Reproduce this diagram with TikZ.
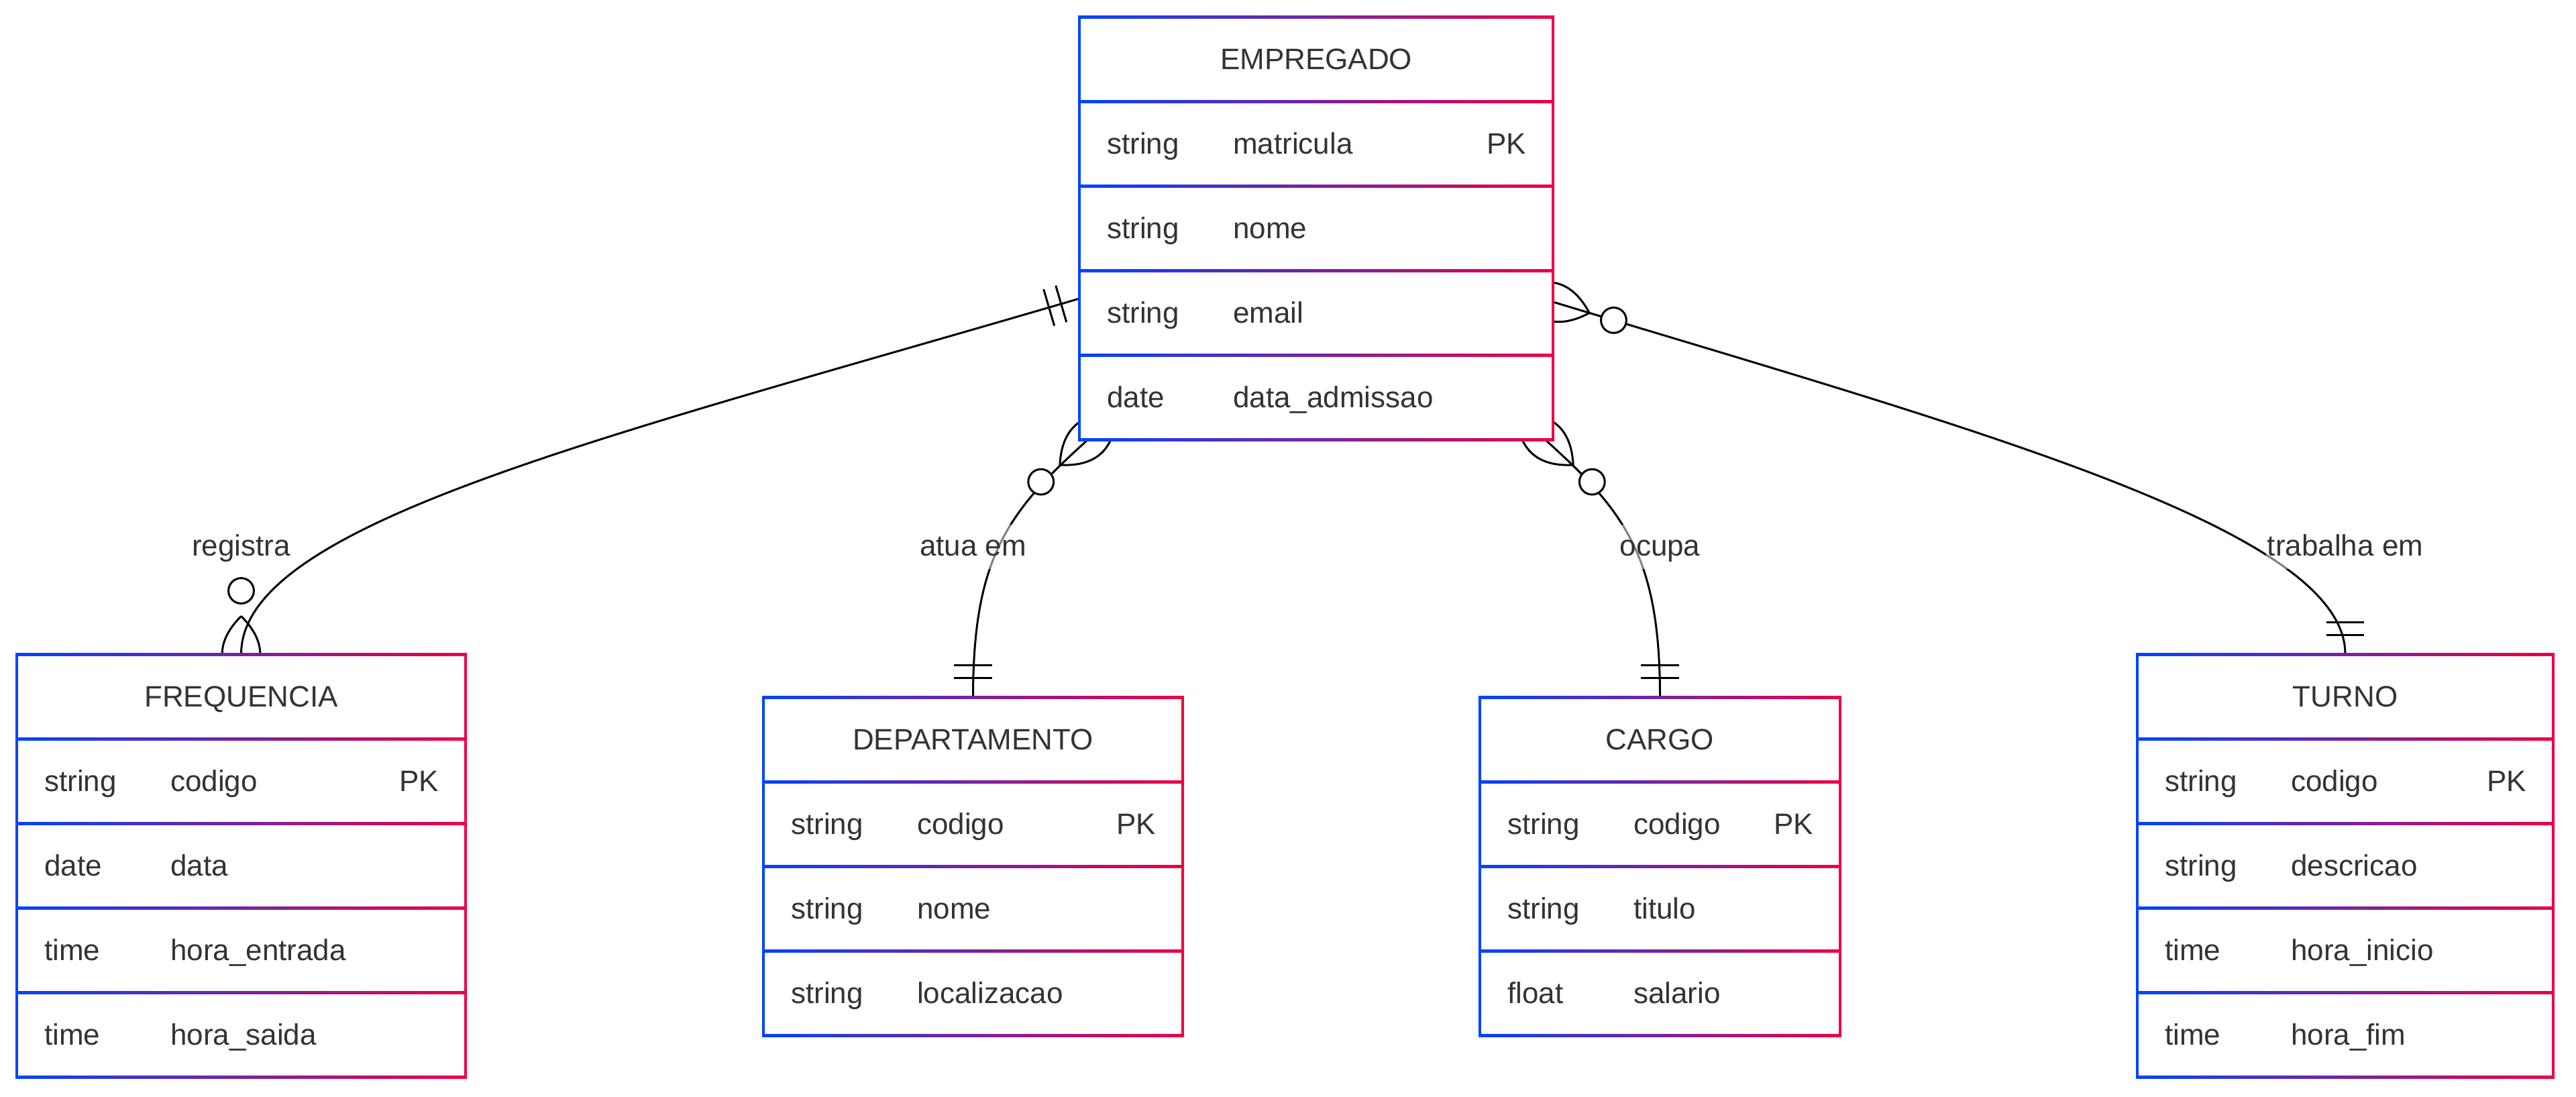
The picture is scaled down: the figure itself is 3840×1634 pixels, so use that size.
\documentclass[tikz,border=0pt]{standalone}
\usepackage{fontspec}
\setmainfont{Liberation Sans}
\usetikzlibrary{calc}
\definecolor{cb}{RGB}{0,68,255}
\definecolor{cr}{RGB}{240,0,68}
\definecolor{txt}{RGB}{51,51,51}
\tikzset{
  conn/.style={draw=black, line width=3pt},
  entity/.style={inner sep=0pt, outer sep=0pt, draw=none},
  hdr/.style={anchor=base, text=txt, inner sep=0pt, font=\fontsize{44}{52}\selectfont},
  attr/.style={anchor=base west, text=txt, inner sep=0pt, font=\fontsize{44}{52}\selectfont},
  pkey/.style={anchor=base east, text=txt, inner sep=0pt, font=\fontsize{44}{52}\selectfont},
  rel/.style={anchor=base, text=txt, fill=white, fill opacity=0.5, text opacity=1,
    inner xsep=2pt, inner ysep=0pt, text height=46pt, text depth=20pt, font=\fontsize{44}{52}\selectfont},
}
% gradient-stroked entity box: x1, y1, x2, number of sections
\newcommand\gbox[4]{%
  \pgfmathsetmacro\gyb{#2+126*#4}
  \fill[white] (#1,#2) rectangle (#3,\gyb);
  \foreach \k in {0,...,#4}{
    \pgfmathsetmacro\gy{#2+126*\k}
    \shade[left color=cb, right color=cr] ({#1-2},{\gy-2}) rectangle ({#3+2},{\gy+2});
  }
  \fill[cb] ({#1-2},{#2-2}) rectangle ({#1+2},{\gyb+2});
  \fill[cr] ({#3-2},{#2-2}) rectangle ({#3+2},{\gyb+2});
}
% header: name, x1, y1, x2, text
\newcommand\ehdr[5]{\node[hdr] (#1-h) at ({(#2+#4)/2},{#3+63+15.7}) {#5};}
% row: name, x1, y1, k, type, field
\newcommand\erow[6]{%
  \node[attr] (#1-#4-t) at ({#2+41},{#3+126*#4+63+15.7}) {#5};
  \node[attr] (#1-#4-n) at ({#2+229},{#3+126*#4+63+15.7}) {#6};
}
% PK: name, x2, y1, k
\newcommand\epk[4]{\node[pkey] (#1-#4-pk) at ({#2-40},{#3+126*#4+63+15.7}) {PK};}
% exactly-one marker: end, toward
\newcommand\mone[2]{%
  \coordinate (m1) at ($(#1)!28.35pt!(#2)$);
  \coordinate (m2) at ($(#1)!47.25pt!(#2)$);
  \draw[conn] ($(m1)!28.35pt!90:(#1)$) -- ($(m1)!28.35pt!-90:(#1)$);
  \draw[conn] ($(m2)!28.35pt!90:(#1)$) -- ($(m2)!28.35pt!-90:(#1)$);
}
% zero-or-more marker: end, toward
\newcommand\mzero[2]{%
  \coordinate (za) at ($(#1)!56.7pt!(#2)$);
  \coordinate (zb) at ($(#1)!-56.7pt!(#2)$);
  \coordinate (zc) at ($(#1)!56.7pt!90:(#2)$);
  \coordinate (zd) at ($(#1)!56.7pt!-90:(#2)$);
  \draw[conn] (za) .. controls ($(za)!2/3!(zc)$) and ($(zb)!2/3!(zc)$) .. (zb)
     .. controls ($(zb)!2/3!(zd)$) and ($(za)!2/3!(zd)$) .. (za);
  \draw[conn, fill=white] ($(#1)!94.5pt!(#2)$) circle[radius=18.9pt];
}
\begin{document}
\begin{tikzpicture}[x=1pt, y=-1pt]
\useasboundingbox (0,0) rectangle (3840,1634);
% entity nodes
\node[entity, minimum width=706pt, minimum height=630pt] (emp) at (1962,340) {};
\node[entity, minimum width=669pt, minimum height=630pt] (freq) at (359.5,1290) {};
\node[entity, minimum width=625pt, minimum height=504pt] (dep) at (1450.5,1291) {};
\node[entity, minimum width=537pt, minimum height=504pt] (cargo) at (2474.5,1291) {};
\node[entity, minimum width=620pt, minimum height=630pt] (turno) at (3496,1290) {};
% connector end points and tangents
\coordinate (e1) at ($(emp.north west)+(0,420)$);
\coordinate (e2) at ($(emp.south west)+(13,0)$);
\coordinate (e3) at ($(emp.south east)+(-12,0)$);
\coordinate (e4) at ($(emp.north east)+(0,425)$);
\coordinate (c1a) at (900,653);   \coordinate (c1b) at (359.5,780);
\coordinate (c2a) at (1503,762);  \coordinate (c2b) at (1450.5,830);
\coordinate (c3a) at (2422,762);  \coordinate (c3b) at (2474.5,830);
\coordinate (c4a) at (2950,642);  \coordinate (c4b) at (3496,790);
% connectors
\draw[conn] (e1) .. controls (c1a) and (c1b) .. (freq.north);
\draw[conn] (e2) .. controls (c2a) and (c2b) .. (dep.north);
\draw[conn] (e3) .. controls (c3a) and (c3b) .. (cargo.north);
\draw[conn] (e4) .. controls (c4a) and (c4b) .. (turno.north);
% markers
\mone{e1}{c1a}
\mzero{freq.north}{c1b}
\mzero{e2}{c2a}
\mone{dep.north}{c2b}
\mzero{e3}{c3a}
\mone{cargo.north}{c3b}
\mzero{e4}{c4a}
\mone{turno.north}{c4b}
% boxes
\gbox{1609}{25}{2315}{5}
\gbox{25}{975}{694}{5}
\gbox{1138}{1039}{1763}{4}
\gbox{2206}{1039}{2743}{4}
\gbox{3186}{975}{3806}{5}
% EMPREGADO
\ehdr{emp}{1609}{25}{2315}{EMPREGADO}
\erow{emp}{1609}{25}{1}{string}{matricula}\epk{emp}{2315}{25}{1}
\erow{emp}{1609}{25}{2}{string}{nome}
\erow{emp}{1609}{25}{3}{string}{email}
\erow{emp}{1609}{25}{4}{date}{data\_admissao}
% FREQUENCIA
\ehdr{freq}{25}{975}{694}{FREQUENCIA}
\erow{freq}{25}{975}{1}{string}{codigo}\epk{freq}{694}{975}{1}
\erow{freq}{25}{975}{2}{date}{data}
\erow{freq}{25}{975}{3}{time}{hora\_entrada}
\erow{freq}{25}{975}{4}{time}{hora\_saida}
% DEPARTAMENTO
\ehdr{dep}{1138}{1039}{1763}{DEPARTAMENTO}
\erow{dep}{1138}{1039}{1}{string}{codigo}\epk{dep}{1763}{1039}{1}
\erow{dep}{1138}{1039}{2}{string}{nome}
\erow{dep}{1138}{1039}{3}{string}{localizacao}
% CARGO
\ehdr{cargo}{2206}{1039}{2743}{CARGO}
\erow{cargo}{2206}{1039}{1}{string}{codigo}\epk{cargo}{2743}{1039}{1}
\erow{cargo}{2206}{1039}{2}{string}{titulo}
\erow{cargo}{2206}{1039}{3}{float}{salario}
% TURNO
\ehdr{turno}{3186}{975}{3806}{TURNO}
\erow{turno}{3186}{975}{1}{string}{codigo}\epk{turno}{3806}{975}{1}
\erow{turno}{3186}{975}{2}{string}{descricao}
\erow{turno}{3186}{975}{3}{time}{hora\_inicio}
\erow{turno}{3186}{975}{4}{time}{hora\_fim}
% relationship labels
\node[rel] (l1) at (359.5,828) {registra};
\node[rel] (l2) at (1450.5,828) {atua em};
\node[rel] (l3) at (2474.5,828) {ocupa};
\node[rel] (l4) at (3496,828) {trabalha em};
\end{tikzpicture}
\end{document}
